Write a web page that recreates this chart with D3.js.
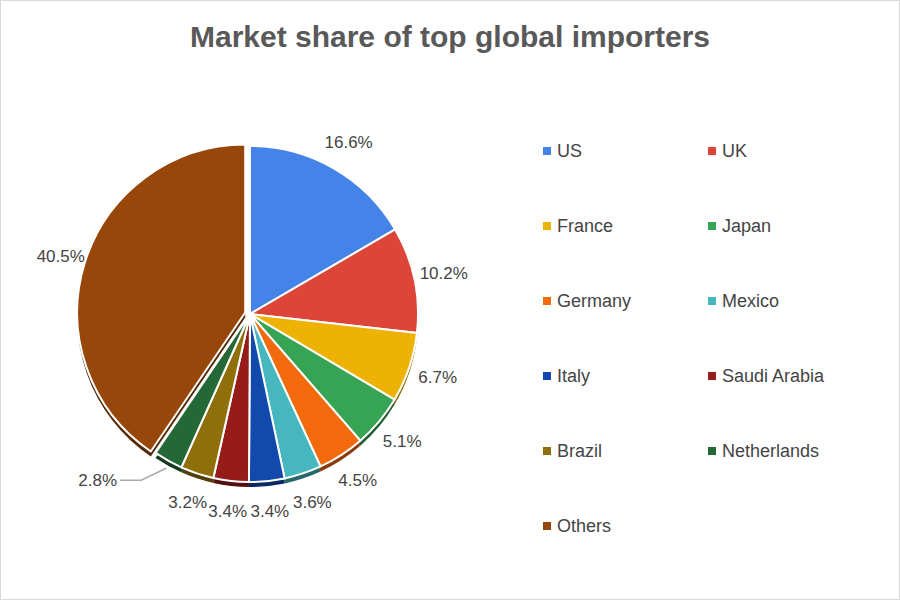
<!DOCTYPE html>
<html>
<head>
<script src="https://d3js.org/d3.v7.min.js"></script>
<style>
    body { margin: 0; background: white; }
    text { font-family: Arial, "Liberation Sans", sans-serif; }
</style>
</head>
<body>
<div id="chart"></div>
<script>
    var countries = ["US", "UK", "France", "Japan", "Germany", "Mexico", "Italy", "Saudi Arabia", "Brazil", "Netherlands", "Others"];
    var shares = [16.6, 10.2, 6.7, 5.1, 4.5, 3.6, 3.4, 3.4, 3.2, 2.8, 40.5];
    var colors = ["#4484e8", "#dd4538", "#eeb205", "#36a454", "#f26a0b", "#46b7bf", "#1149ac", "#951c19", "#8f6f0a", "#246836", "#974709"];

    var width = 900, height = 600;
    var cx = 250, cy = 314, radius = 168;

    var svg = d3.select("#chart").append("svg")
                .attr("width", width)
                .attr("height", height);

    svg.append("rect")
       .attr("x", 0.5).attr("y", 0.5)
       .attr("width", width - 1).attr("height", height - 1)
       .attr("fill", "white").attr("stroke", "#d9d9d9");

    svg.append("text")
       .attr("x", 450).attr("y", 47)
       .attr("text-anchor", "middle")
       .attr("font-size", 30).attr("font-weight", "bold")
       .attr("fill", "#595959")
       .text("Market share of top global importers");

    var pie = d3.pie().sort(null).value(function(d){ return d; });
    var arcs = pie(shares);
    var arc = d3.arc().innerRadius(0).outerRadius(radius);

    var g = svg.append("g").attr("transform", "translate(" + cx + "," + cy + ")");

    function offset(i)
    {
        // Others slice is pulled out slightly
        if(i == shares.length - 1)
        {
            var a = (arcs[i].startAngle + arcs[i].endAngle) / 2;
            return [Math.sin(a) * 5, -Math.cos(a) * 5];
        }
        return [0, 0];
    }

    // depth edge
    g.selectAll("path.depth").data(arcs).enter().append("path")
     .attr("class", "depth")
     .attr("d", arc)
     .attr("transform", function(d, i){ var o = offset(i); return "translate(" + o[0] + "," + (o[1] + 5) + ")"; })
     .attr("fill", function(d, i){ return d3.color(colors[i]).darker(1.6); });

    g.selectAll("path.slice").data(arcs).enter().append("path")
     .attr("class", "slice")
     .attr("d", arc)
     .attr("transform", function(d, i){ var o = offset(i); return "translate(" + o[0] + "," + o[1] + ")"; })
     .attr("fill", function(d, i){ return colors[i]; })
     .attr("stroke", "white")
     .attr("stroke-width", 2);

    // labels
    var labelArc = d3.arc().innerRadius(radius + 30).outerRadius(radius + 30);
    arcs.forEach(function(d, i){
        var c = labelArc.centroid(d);
        var x = c[0], y = c[1] + 6;
        if(i == 9)
        {
            var p = d3.arc().innerRadius(radius + 4).outerRadius(radius + 4).centroid(d);
            g.append("polyline")
             .attr("points", [p[0], p[1] + 4, p[0] - 25, p[1] + 16, -130, p[1] + 16].join(","))
             .attr("fill", "none").attr("stroke", "#aaaaaa").attr("stroke-width", 1.5);
            x = -133; y = p[1] + 22;
            g.append("text").attr("x", x).attr("y", y).attr("text-anchor", "end")
             .attr("font-size", 17).attr("fill", "#444").text(shares[i].toFixed(1) + "%");
            return;
        }
        g.append("text")
         .attr("x", x).attr("y", y)
         .attr("text-anchor", "middle")
         .attr("font-size", 17).attr("fill", "#444")
         .text(shares[i].toFixed(1) + "%");
    });

    // legend
    var legend = svg.append("g");
    countries.forEach(function(name, i){
        var lx = 543 + (i % 2) * 165;
        var ly = 151 + Math.floor(i / 2) * 75;
        legend.append("rect")
              .attr("x", lx).attr("y", ly - 4)
              .attr("width", 8).attr("height", 8)
              .attr("fill", colors[i]);
        legend.append("text")
              .attr("x", lx + 14).attr("y", ly + 6)
              .attr("font-size", 18).attr("fill", "#444")
              .text(name);
    });
</script>
</body>
</html>
